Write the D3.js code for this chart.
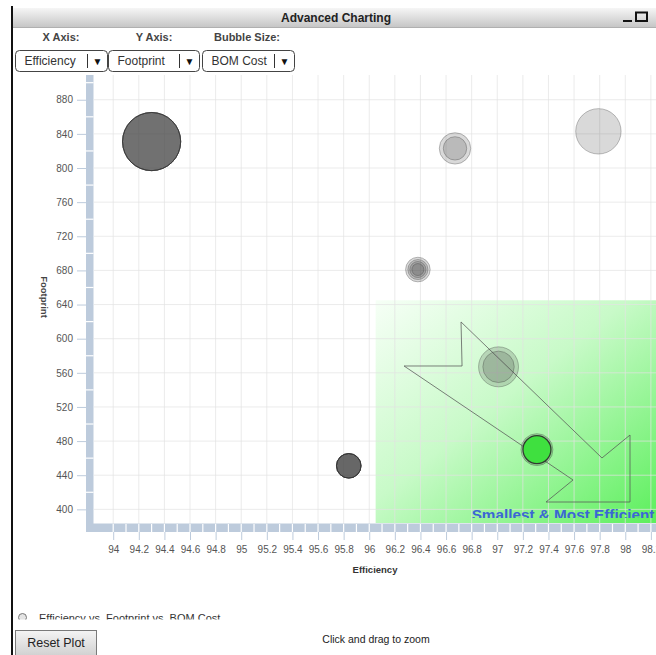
<!DOCTYPE html>
<html>
<head>
<meta charset="utf-8">
<title>Advanced Charting</title>
<script src="https://cdn.jsdelivr.net/npm/d3@7/dist/d3.min.js"></script>
<style>
  html, body { margin: 0; padding: 0; background: #fff; overflow: hidden; }
  svg { display: block; font-family: "Liberation Sans", Arial, sans-serif; }
</style>
</head>
<body>
<svg id="chart" width="656" height="655"></svg>
<script>
// One row per design: efficiency (%), footprint (mm²), BOM cost ($)
const efficiency = [
  94.30, 94.30, 94.30, 94.30, 94.30, 94.30,
  96.67, 96.67,
  97.79,
  96.38, 96.38, 96.38, 96.38,
  97.01, 97.01,
  97.31, 97.31,
  95.84, 95.84, 95.84, 95.84, 95.84, 95.84, 95.84
];
const footprint = [
  831, 831, 831, 831, 831, 831,
  823, 823,
  843,
  681, 681, 681, 681,
  567, 567,
  470, 470,
  451, 451, 451, 451, 451, 451, 451
];
const bomCost = [
  47, 47, 47, 47, 47, 47,
  13.7, 7.6,
  28.6,
  8.4, 5.6, 3.6, 2.0,
  22.2, 13.7,
  14.2, 10.9,
  8.4, 8.4, 8.4, 8.4, 8.4, 8.4, 8.4
];
// design currently picked out in the plot
const highlightIndex = 16;

const xTickValues = [94, 94.2, 94.4, 94.6, 94.8, 95, 95.2, 95.4, 95.6, 95.8, 96,
                     96.2, 96.4, 96.6, 96.8, 97, 97.2, 97.4, 97.6, 97.8, 98, 98.2];
const yTickValues = [400, 440, 480, 520, 560, 600, 640, 680, 720, 760, 800, 840, 880];

// target zone: efficiency above this, footprint below this
const zoneMinEfficiency = 96.05;
const zoneMaxFootprint = 645;
const zoneLabel = "Smallest & Most Efficient";

// arrow outline pointing into the target zone, in data units
const arrowEfficiency = [96.717, 96.725, 96.272, 97.592, 97.381, 98.037, 98.037, 97.818];
const arrowFootprint  = [619.6, 568, 568, 434.4, 408.6, 408.6, 487.1, 460.2];

const axisChoices = ["Efficiency", "Footprint", "BOM Cost"];
const axisPrompts = ["X Axis:", "Y Axis:", "Bubble Size:"];

const svg = d3.select("#chart");
const W = 656, H = 655;
const plot = { left: 94, right: 656, top: 75, bottom: 523 };

const x = d3.scaleLinear().domain([93.85, 98.24]).range([plot.left, plot.right]);
const y = d3.scaleLinear().domain([384, 909]).range([plot.bottom, plot.top]);
const r = d3.scaleSqrt().domain([0, 50]).range([0, 30]);

const defs = svg.append("defs");
const titleGrad = defs.append("linearGradient").attr("id", "titleGrad")
  .attr("x1", 0).attr("y1", 0).attr("x2", 0).attr("y2", 1);
titleGrad.append("stop").attr("offset", "0%").attr("stop-color", "#f6f6f6");
titleGrad.append("stop").attr("offset", "100%").attr("stop-color", "#c6c6c6");

const zoneGrad = defs.append("linearGradient").attr("id", "zoneGrad")
  .attr("x1", 0).attr("y1", 0).attr("x2", 1).attr("y2", 1);
zoneGrad.append("stop").attr("offset", "0%").attr("stop-color", "#f6fff6");
zoneGrad.append("stop").attr("offset", "45%").attr("stop-color", "#c8fac8");
zoneGrad.append("stop").attr("offset", "100%").attr("stop-color", "#5cef5c");

const btnGrad = defs.append("linearGradient").attr("id", "btnGrad")
  .attr("x1", 0).attr("y1", 0).attr("x2", 0).attr("y2", 1);
btnGrad.append("stop").attr("offset", "0%").attr("stop-color", "#f4f4f4");
btnGrad.append("stop").attr("offset", "100%").attr("stop-color", "#cdcdcd");

defs.append("clipPath").attr("id", "plotClip").append("rect")
  .attr("x", plot.left).attr("y", plot.top)
  .attr("width", plot.right - plot.left).attr("height", plot.bottom - plot.top);
defs.append("clipPath").attr("id", "zoneTextClip").append("rect")
  .attr("x", plot.left).attr("y", plot.top)
  .attr("width", plot.right - plot.left).attr("height", 518 - plot.top);
defs.append("clipPath").attr("id", "xTitleClip").append("rect")
  .attr("x", 0).attr("y", 566.5).attr("width", W).attr("height", 20);
defs.append("clipPath").attr("id", "legendClip").append("rect")
  .attr("x", 0).attr("y", 600).attr("width", W).attr("height", 19.5);

// ---- window frame ----
svg.append("rect").attr("x", 0).attr("y", 0).attr("width", W).attr("height", H).attr("fill", "#fff");
svg.append("rect").attr("x", 13).attr("y", 8).attr("width", W - 13).attr("height", 19)
  .attr("fill", "url(#titleGrad)");
svg.append("line").attr("x1", 13).attr("x2", W).attr("y1", 27.5).attr("y2", 27.5)
  .attr("stroke", "#b0b0b0");
svg.append("rect").attr("x", 11).attr("y", 6).attr("width", 2).attr("height", H - 6).attr("fill", "#111");
svg.append("text").attr("x", 336).attr("y", 22).attr("text-anchor", "middle")
  .attr("font-size", 12).attr("font-weight", "bold").attr("fill", "#222")
  .text("Advanced Charting");
// minimise / maximise glyphs
svg.append("line").attr("x1", 623).attr("x2", 632).attr("y1", 21).attr("y2", 21)
  .attr("stroke", "#111").attr("stroke-width", 2);
svg.append("rect").attr("x", 636).attr("y", 12.5).attr("width", 11).attr("height", 8.5)
  .attr("fill", "none").attr("stroke", "#111").attr("stroke-width", 2);

// ---- axis selectors ----
const promptX = [61, 154, 247];
const boxX = [15.5, 108.5, 202.5];
const boxW = [92, 91, 92];
axisPrompts.forEach((p, i) => {
  svg.append("text").attr("x", promptX[i]).attr("y", 41).attr("text-anchor", "middle")
    .attr("font-size", 11).attr("font-weight", "bold").attr("fill", "#444").text(p);
  const g = svg.append("g");
  g.append("rect").attr("x", boxX[i]).attr("y", 50.5).attr("width", boxW[i]).attr("height", 21)
    .attr("rx", 4).attr("fill", "#fff").attr("stroke", "#444");
  g.append("text").attr("x", boxX[i] + 9).attr("y", 64.5)
    .attr("font-size", 12).attr("fill", "#333").text(axisChoices[i]);
  const sepX = boxX[i] + boxW[i] - 20;
  g.append("line").attr("x1", sepX).attr("x2", sepX).attr("y1", 54).attr("y2", 68)
    .attr("stroke", "#333");
  g.append("text").attr("x", sepX + 10).attr("y", 64.5).attr("text-anchor", "middle")
    .attr("font-size", 10).attr("fill", "#111").text("▼");
});

// ---- plot area ----
const plotG = svg.append("g").attr("clip-path", "url(#plotClip)");

// target zone
plotG.append("rect")
  .attr("x", x(zoneMinEfficiency)).attr("y", y(zoneMaxFootprint))
  .attr("width", plot.right - x(zoneMinEfficiency))
  .attr("height", plot.bottom - y(zoneMaxFootprint))
  .attr("fill", "url(#zoneGrad)");

// grid
plotG.append("g").selectAll("line").data(xTickValues).join("line")
  .attr("x1", d => x(d)).attr("x2", d => x(d))
  .attr("y1", plot.top).attr("y2", plot.bottom)
  .attr("stroke", "#e2e2e2").attr("stroke-opacity", 0.7);
plotG.append("g").selectAll("line").data(yTickValues).join("line")
  .attr("x1", plot.left).attr("x2", plot.right)
  .attr("y1", d => y(d)).attr("y2", d => y(d))
  .attr("stroke", "#e2e2e2").attr("stroke-opacity", 0.7);

// zone label
plotG.append("text").attr("clip-path", "url(#zoneTextClip)")
  .attr("x", x(96.80)).attr("y", 519.5)
  .attr("font-size", 15.3).attr("font-weight", "bold").attr("fill", "#3b66d4")
  .text(zoneLabel);

// arrow outline
const arrowPts = arrowEfficiency.map((e, i) => [x(e), y(arrowFootprint[i])]);
plotG.append("path")
  .attr("d", d3.line()(arrowPts) + "Z")
  .attr("fill", "none").attr("stroke", "#555").attr("stroke-opacity", 0.75).attr("stroke-width", 1);

// bubbles: larger cost drawn first, picked design on top
const rows = efficiency.map((e, i) => ({ i, e, f: footprint[i], c: bomCost[i] }));
rows.sort((a, b) => (a.i === highlightIndex) - (b.i === highlightIndex) || b.c - a.c);
plotG.append("g").selectAll("circle").data(rows).join("circle")
  .attr("cx", d => x(d.e)).attr("cy", d => y(d.f)).attr("r", d => r(d.c))
  .attr("fill", d => d.i === highlightIndex ? "#3fe03f" : "#404040")
  .attr("fill-opacity", d => d.i === highlightIndex ? 1 : 0.2)
  .attr("stroke", d => d.i === highlightIndex ? "#2a2a2a" : "#303030")
  .attr("stroke-opacity", d => d.i === highlightIndex ? 0.9 : 0.3)
  .attr("stroke-width", d => d.i === highlightIndex ? 1.3 : 1);

// ---- axis bands ----
const bandColor = "#bdcbdc";
svg.append("rect").attr("x", 86).attr("y", plot.top).attr("width", 7.5)
  .attr("height", 532 - plot.top).attr("fill", bandColor);
svg.append("rect").attr("x", 86).attr("y", 523.5).attr("width", W - 86)
  .attr("height", 8.5).attr("fill", bandColor);

// notches in the bands
const xNotches = d3.range(0, 44).map(k => 94 + k * 0.1);
svg.append("g").selectAll("line").data(xNotches).join("line")
  .attr("x1", d => x(d)).attr("x2", d => x(d)).attr("y1", 524).attr("y2", 532)
  .attr("stroke", "#fff").attr("stroke-width", 1.2);
const yNotches = d3.range(0, 13).map(k => 420 + k * 40);
svg.append("g").selectAll("line").data(yNotches).join("line")
  .attr("x1", 86).attr("x2", 93.5).attr("y1", d => y(d)).attr("y2", d => y(d))
  .attr("stroke", "#fff").attr("stroke-width", 1.2);

// x axis ticks and labels
const xAxis = d3.axisBottom(x).tickValues(xTickValues).tickSize(8).tickPadding(6)
  .tickFormat(d3.format(""));
const xg = svg.append("g").attr("transform", "translate(0,532)").call(xAxis);
xg.select(".domain").remove();
xg.selectAll(".tick line").attr("stroke", bandColor);
xg.selectAll(".tick text").attr("font-size", 10).attr("fill", "#555")
  .attr("font-family", "Liberation Sans, Arial, sans-serif");

// y axis ticks and labels
const yAxis = d3.axisLeft(y).tickValues(yTickValues).tickSize(9).tickPadding(4);
const yg = svg.append("g").attr("transform", "translate(86,0)").call(yAxis);
yg.select(".domain").remove();
yg.selectAll(".tick line").attr("stroke", bandColor);
yg.selectAll(".tick text").attr("font-size", 10).attr("fill", "#555")
  .attr("font-family", "Liberation Sans, Arial, sans-serif");

// axis titles
svg.append("text").attr("clip-path", "url(#xTitleClip)")
  .attr("x", 375).attr("y", 573).attr("text-anchor", "middle")
  .attr("font-size", 9.5).attr("font-weight", "bold").attr("fill", "#333")
  .text(axisChoices[0]);
svg.append("text").attr("transform", "translate(41,297) rotate(90)")
  .attr("text-anchor", "middle")
  .attr("font-size", 9.5).attr("font-weight", "bold").attr("fill", "#444")
  .text(axisChoices[1]);

// ---- legend ----
const legend = svg.append("g").attr("clip-path", "url(#legendClip)");
legend.append("circle").attr("cx", 22.5).attr("cy", 617.5).attr("r", 4)
  .attr("fill", "#e4e4e4").attr("stroke", "#777");
legend.append("text").attr("x", 39).attr("y", 622).attr("font-size", 11).attr("fill", "#333")
  .text(`${axisChoices[0]} vs. ${axisChoices[1]} vs. ${axisChoices[2]}`);

// ---- footer controls ----
svg.append("rect").attr("x", 15.5).attr("y", 630.5).attr("width", 81).attr("height", 28)
  .attr("fill", "url(#btnGrad)").attr("stroke", "#7a7a7a");
svg.append("text").attr("x", 56).attr("y", 646.5).attr("text-anchor", "middle")
  .attr("font-size", 12.5).attr("fill", "#222").text("Reset Plot");
svg.append("text").attr("x", 376).attr("y", 643).attr("text-anchor", "middle")
  .attr("font-size", 10.5).attr("fill", "#222").text("Click and drag to zoom");
</script>
</body>
</html>
